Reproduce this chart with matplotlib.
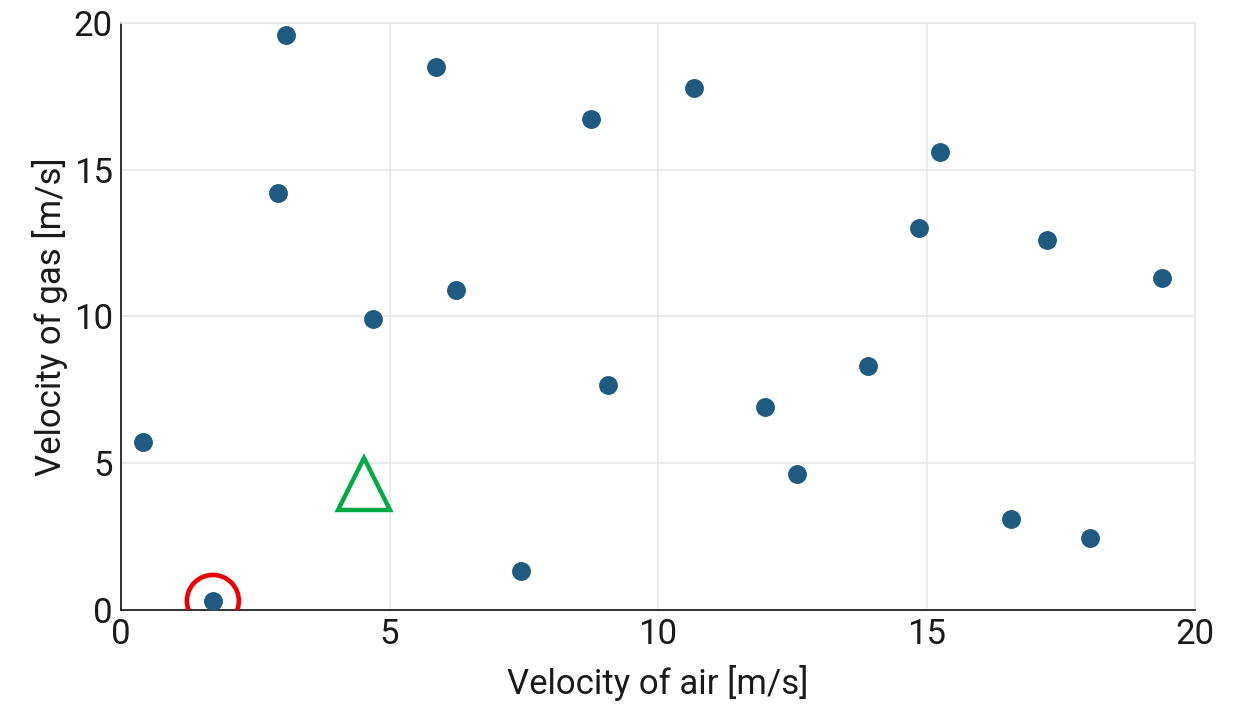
import matplotlib
matplotlib.use("Agg")
import matplotlib.pyplot as plt

air = [0.41, 1.71, 2.92, 3.07, 4.69, 5.87, 6.24, 7.45, 8.75, 9.07,
       10.67, 11.99, 12.59, 13.91, 14.86, 15.25, 16.57, 17.24, 18.04, 19.39]
gas = [5.72, 0.31, 14.21, 19.59, 9.91, 18.50, 10.90, 1.33, 16.73, 7.67,
       17.79, 6.92, 4.63, 8.31, 13.02, 15.60, 3.10, 12.61, 2.45, 11.31]
highlight_x, highlight_y = [1.71], [0.31]
triangle_x, triangle_y = [4.53], [4.29]
ticks = [0, 5, 10, 15, 20]

plt.rcParams['font.family'] = ['Roboto', 'DejaVu Sans']
fig = plt.figure(figsize=(12.49, 7.07), dpi=100)
ax = fig.add_axes([0.0969, 0.1372, 0.8599, 0.8303])

ax.scatter(air, gas, s=185, color='#1f5a80', zorder=3, linewidths=0)
ax.scatter(highlight_x, highlight_y, s=1400, facecolors='none', edgecolors='#ee0000', linewidths=3.3, zorder=4)
ax.plot(triangle_x, triangle_y, marker='^', markersize=37, markerfacecolor='none',
        markeredgecolor='#00aa44', markeredgewidth=3.2, linestyle='none', zorder=4)

ax.set_xlim(0, 20)
ax.set_ylim(0, 20)
ax.set_xticks(ticks)
ax.set_yticks(ticks)
ax.grid(True, color='#e8e8e8', linewidth=1.2, zorder=0)
ax.set_axisbelow(True)
for side in ['top', 'right']:
    ax.spines[side].set_color('#e8e8e8')
    ax.spines[side].set_linewidth(1.2)
for side in ['left', 'bottom']:
    ax.spines[side].set_color('#222222')
    ax.spines[side].set_linewidth(1.3)
ax.tick_params(axis='both', length=0, labelsize=25, colors='#1a1a1a', pad=6)
ax.set_xlabel('Velocity of air [m/s]', fontsize=25, color='#1a1a1a', labelpad=10)
ax.set_ylabel('Velocity of gas [m/s]', fontsize=25, color='#1a1a1a', labelpad=4)

fig.savefig('out.png', dpi=100)
